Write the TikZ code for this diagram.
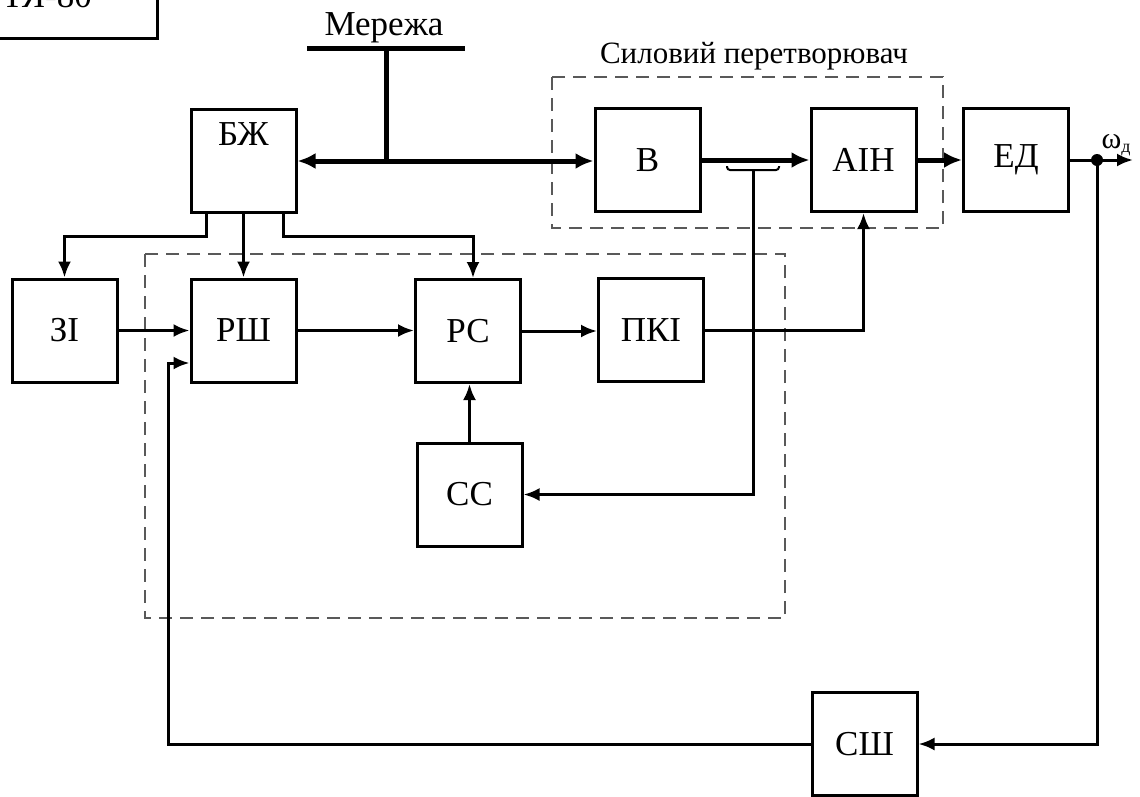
\documentclass[tikz,border=0pt]{standalone}
\usepackage{fontspec}
\setmainfont{Liberation Serif}
\usetikzlibrary{arrows.meta}
\begin{document}
\begin{tikzpicture}[x=1pt,y=-1pt,
  blk/.style={draw,line width=3pt,minimum width=105pt,minimum height=103pt,inner sep=0pt,font=\fontsize{35}{40}\selectfont},
  ln/.style={line width=3pt},
  thk/.style={line width=5pt},
  arr/.style={-{Latex[length=16pt,width=13pt]}},
  tarr/.style={-{Latex[length=18pt,width=16pt]}},
  dsh/.style={draw=black!65,line width=2.2pt,dash pattern=on 13pt off 8pt},
  lbl/.style={font=\fontsize{35}{40}\selectfont,inner sep=0pt}
]
\clip (0,0) rectangle (1140,796);
\fill[white] (0,0) rectangle (1140,796);

% dashed groups
\draw[dsh] (145,254) rectangle (785,618);
\draw[dsh] (552,77) rectangle (943,228);
\node[font=\fontsize{31}{36}\selectfont,anchor=base,inner sep=0pt] (sp) at (754,63) {Силовий перетворювач};

% cut-off box top left
\node[draw,line width=3pt,minimum width=200pt,minimum height=80pt,anchor=south east,inner sep=0pt] (tb) at (159,40) {};
\node[lbl,anchor=base east] (tbt) at (92,7) {ТЯ-80};

% blocks
\node[blk] (bzh) at (243.5,161) {};
\node[lbl,anchor=base] (bzht) at (243.5,145) {БЖ};
\node[blk] (v) at (647.5,160) {В};
\node[blk] (ain) at (863.5,160) {АІН};
\node[blk] (ed) at (1016,160) {ЕД};
\node[blk] (zi) at (64.5,330.5) {ЗІ};
\node[blk] (rsh) at (243.5,330.5) {РШ};
\node[blk] (rs) at (468,331) {РС};
\node[blk] (pki) at (651,330) {ПКІ};
\node[blk] (ss) at (469.5,494.5) {СС};
\node[blk] (sh) at (864.5,744) {СШ};

% mains bus
\coordinate (busl) at (307,48);
\coordinate (busr) at (465,48);
\coordinate (bust) at (386,48);
\coordinate (busj) at (386,161);
\draw[thk] (busl) -- (busr);
\node[lbl,anchor=base] (mer) at (384,35) {Мережа};
\draw[thk] (bust) -- (busj);
\draw[thk,{Latex[length=18pt,width=16pt]}-{Latex[length=18pt,width=16pt]}] (bzh.east) -- (bzh.east -| v.west);
\draw[thk,tarr] (v.east) -- (ain.west);
\draw[thk,tarr] (ain.east) -- (ed.west);

% BZh outputs
\draw[ln,arr] ([xshift=-37.5pt]bzh.south) -- ++(0,22.5) -| (zi.north);
\draw[ln,arr] (bzh.south) -- (rsh.north);
\draw[ln,arr] ([xshift=39.5pt]bzh.south) -- ++(0,22.5) -| ([xshift=5pt]rs.north);

% forward chain
\draw[ln,arr] (zi.east) -- (rsh.west);
\draw[ln,arr] (rsh.east) -- (rsh.east -| rs.west);
\draw[ln,arr] (rs.east) -- (rs.east -| pki.west);
\draw[ln,arr] (pki.east) -| (ain.south);
\draw[ln,arr] (ss.north) -- (ss.north |- rs.south);

% current sensor bracket
\coordinate (brl) at (727,166);
\coordinate (brr) at (779,166);
\coordinate (brc) at (753,170);
\draw[line width=2pt,rounded corners=3pt] (brl) -- (727,170) -- (779,170) -- (brr);
\draw[ln,arr] (brc) |- (ss.east);

% output
\coordinate (wend) at (1133,160);
\coordinate (dot) at (1097,160);
\draw[ln,arr] (ed.east) -- (wend);
\fill (dot) circle (6pt);
\node[font=\fontsize{30}{34}\selectfont,anchor=base,inner sep=0pt] (om) at (1116,148) {ω\raisebox{-4pt}{\fontsize{18}{20}\selectfont д}};
\draw[ln,arr] (dot) |- (sh.east);

% speed feedback
\coordinate (fb) at (168,363);
\draw[ln,arr] (sh.west) -| (fb) -- (fb -| rsh.west);
\end{tikzpicture}
\end{document}
